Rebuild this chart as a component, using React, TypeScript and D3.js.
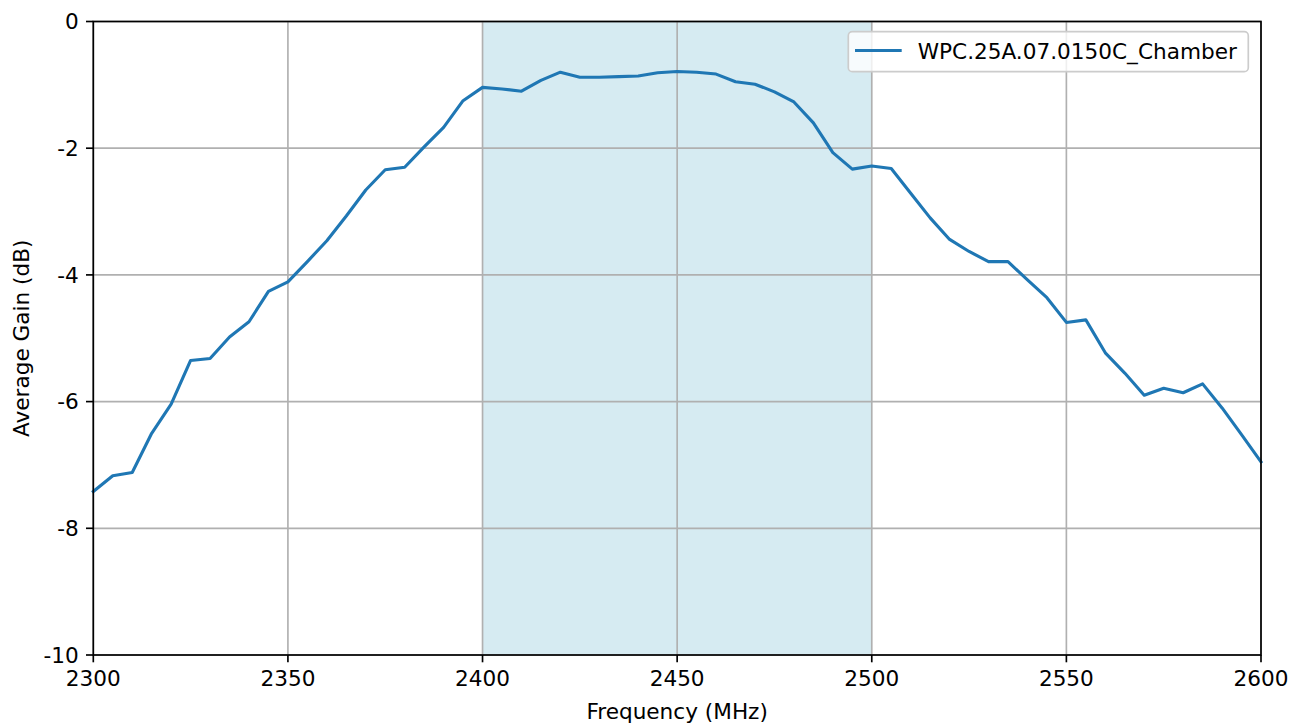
import React from 'react';
import * as d3 from 'd3';

const frequencies = d3.range(2300, 2601, 5);
const gains = [
  -7.42, -7.17, -7.12, -6.5, -6.04, -5.35, -5.32, -4.98, -4.74, -4.26,
  -4.11, -3.79, -3.46, -3.07, -2.66, -2.34, -2.3, -1.98, -1.67, -1.25,
  -1.04, -1.065, -1.1, -0.93, -0.8, -0.88, -0.88, -0.87, -0.86, -0.81,
  -0.79, -0.8, -0.83, -0.95, -0.99, -1.11, -1.27, -1.6, -2.07, -2.33,
  -2.28, -2.32, -2.71, -3.1, -3.44, -3.63, -3.79, -3.79, -4.08, -4.36,
  -4.75, -4.71, -5.23, -5.55, -5.9, -5.79, -5.86, -5.72, -6.1, -6.52,
  -6.95,
];
const xTicks = [2300, 2350, 2400, 2450, 2500, 2550, 2600];
const yTicks = [0, -2, -4, -6, -8, -10];
const band = [2400, 2500];
const seriesName = 'WPC.25A.07.0150C_Chamber';

const App = () => {
  const width = 1302;
  const height = 727;
  const left = 93.3;
  const right = 1261;
  const top = 21.5;
  const bottom = 655;
  const font = 'DejaVu Sans, sans-serif';
  const fs = 21.6;

  const x = d3.scaleLinear().domain([2300, 2600]).range([left, right]);
  const y = d3.scaleLinear().domain([-10, 0]).range([bottom, top]);

  const points: [number, number][] = frequencies.map((f, i) => [f, gains[i]]);
  const line = d3.line<[number, number]>()
    .x(d => x(d[0]))
    .y(d => y(d[1]));

  return (
    <svg width={width} height={height} style={{ position: 'absolute', left: 0, top: 0 }}
      fontFamily={font}>
      <rect x={0} y={0} width={width} height={height} fill="white" />
      <rect x={x(band[0])} y={top} width={x(band[1]) - x(band[0])} height={bottom - top}
        fill="#add8e6" fillOpacity={0.5} />
      {/* grid */}
      {xTicks.map(t => (
        <line key={'gx' + t} x1={x(t)} x2={x(t)} y1={top} y2={bottom} stroke="#b0b0b0" strokeWidth={1.67} />
      ))}
      {yTicks.map(t => (
        <line key={'gy' + t} x1={left} x2={right} y1={y(t)} y2={y(t)} stroke="#b0b0b0" strokeWidth={1.67} />
      ))}
      <path d={line(points) ?? ''} fill="none" stroke="#1f77b4" strokeWidth={3.1}
        strokeLinejoin="round" strokeLinecap="square" />
      {/* spines */}
      <rect x={left} y={top} width={right - left} height={bottom - top} fill="none" stroke="black" strokeWidth={1.67} />
      {xTicks.map(t => (
        <g key={'tx' + t}>
          <line x1={x(t)} x2={x(t)} y1={bottom} y2={bottom + 7.3} stroke="black" strokeWidth={1.67} />
          <text x={x(t)} y={bottom + 30.5} textAnchor="middle" fontSize={fs} fill="#000">{t}</text>
        </g>
      ))}
      {yTicks.map(t => (
        <g key={'ty' + t}>
          <line x1={left - 7.3} x2={left} y1={y(t)} y2={y(t)} stroke="black" strokeWidth={1.67} />
          <text x={left - 14.6} y={y(t) + 7.8} textAnchor="end" fontSize={fs} fill="#000">{t}</text>
        </g>
      ))}
      <text x={(left + right) / 2} y={718.5} textAnchor="middle" fontSize={fs} fill="#000">Frequency (MHz)</text>
      <text transform={`translate(29,${(top + bottom) / 2}) rotate(-90)`} textAnchor="middle" fontSize={fs} fill="#000">
        Average Gain (dB)
      </text>
      {/* legend */}
      <rect x={848.3} y={31.7} width={400} height={40} rx={4} fill="white" fillOpacity={0.8}
        stroke="#cccccc" strokeWidth={1.67} />
      <line x1={855} x2={901.7} y1={50.5} y2={50.5} stroke="#1f77b4" strokeWidth={3.1} />
      <text x={917.7} y={58.5} fontSize={fs} fill="#000">{seriesName}</text>
    </svg>
  );
};

export default App;
